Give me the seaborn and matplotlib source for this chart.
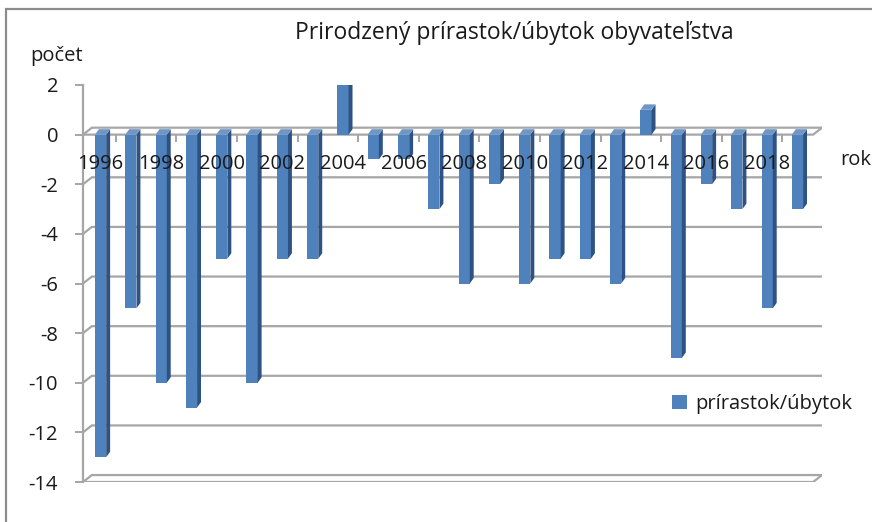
import matplotlib
matplotlib.use("Agg")
import matplotlib.pyplot as plt
from matplotlib.patches import Rectangle, Polygon
import seaborn as sns
import pandas as pd

years = [str(y) for y in range(1996, 2020)]
values = [-13, -7, -10, -11, -5, -10, -5, -5, 2, -1, -1, -3,
          -6, -2, -6, -5, -5, -6, 1, -9, -2, -3, -7, -3]
y_ticks = [2, 0, -2, -4, -6, -8, -10, -12, -14]
series_name = "prírastok/úbytok"
title = "Prirodzený prírastok/úbytok obyvateľstva"

FONT = ["Open Sans", "DejaVu Sans"]
sns.set_theme(style="white")
plt.rcParams["font.family"] = FONT

BLUE = "#4F81BD"
SIDE = "#2E5283"
TOP = "#6E97C8"
GRID = "#A6A6A6"
TXT = "#1a1a1a"
FS = 14.5

df = pd.DataFrame({"rok": years, "pocet": values})

fig = plt.figure(figsize=(8.72, 5.22), dpi=100)
ax = fig.add_axes([83 / 872, 1 - 482 / 522, 739 / 872, 397 / 522])

sns.barplot(data=df, x="rok", y="pocet", order=years, color=BLUE,
            width=0.37, saturation=1, label=series_name, ax=ax, zorder=3)

ax.set_xlim(-0.58, 23.81)
ax.set_ylim(-14, 2)

# 3D-like side and top faces derived from the drawn bars
d = 0.13
e = 0.22
for p in list(ax.patches):
    p.set_zorder(3)
    p.set_linewidth(0)
    x0 = p.get_x()
    w = p.get_width()
    y0 = p.get_y()
    h = p.get_height()
    lo, hi = min(y0, y0 + h), max(y0, y0 + h)
    side = Polygon([(x0 + w, lo), (x0 + w + d, lo + e), (x0 + w + d, hi + e), (x0 + w, hi)],
                   closed=True, facecolor=SIDE, edgecolor="none", zorder=3)
    top = Polygon([(x0, hi), (x0 + w, hi), (x0 + w + d, hi + e), (x0 + d, hi + e)],
                  closed=True, facecolor=TOP, edgecolor="none", zorder=3)
    ax.add_patch(side)
    ax.add_patch(top)

# back-wall gridlines with slanted connectors (3D look)
dy = 0.28   # vertical depth offset in data units
dx = 0.012  # horizontal depth offset in axes fraction
tr = ax.get_yaxis_transform()
for t in y_ticks:
    ax.plot([0.0, dx, 1.0], [t, t + dy, t + dy], color=GRID, lw=1.6, zorder=1,
            transform=tr, solid_capstyle="butt", solid_joinstyle="miter")
# front floor line and front zero line ends
for t in (-14, 0):
    ax.plot([0.0, 1.0 - dx, 1.0], [t, t, t + dy], color=GRID, lw=1.6,
            zorder=2, transform=tr, solid_capstyle="butt")

# axes styling
for s in ["top", "right", "bottom"]:
    ax.spines[s].set_visible(False)
ax.spines["bottom"].set_position(("data", 0))
ax.spines["left"].set_color(GRID)
ax.spines["left"].set_linewidth(1.6)
ax.xaxis.set_zorder(4)

ax.set_yticks(y_ticks)
ax.set_yticklabels([str(t) for t in y_ticks])
ax.tick_params(axis="y", direction="out", length=6, width=1.4, color=GRID,
               pad=12, labelsize=FS, labelcolor=TXT, left=True)

major = list(range(0, 24, 2))
ax.set_xticks(major)
ax.set_xticklabels([years[i] for i in major])
ax.set_xticks([i + 0.5 for i in major], minor=True)
ax.tick_params(axis="x", which="major", length=0, pad=14, labelsize=FS,
               labelcolor=TXT)
ax.tick_params(axis="x", which="minor", direction="out", length=5, width=1.4,
               color=GRID, bottom=True)
ax.set_xlabel("")
ax.set_ylabel("")

# legend
handles, labels = ax.get_legend_handles_labels()
ax.legend(handles[:1], labels[:1], loc="center left",
          bbox_to_anchor=(662 / 872, 1 - 404 / 522),
          bbox_transform=fig.transFigure, frameon=False,
          fontsize=FS, handlelength=0.75, handleheight=0.75,
          handletextpad=0.4, borderpad=0, labelcolor=TXT)

# texts
fig.text(514 / 872, 1 - 33 / 522, title, ha="center", va="center",
         fontsize=16.5, color=TXT)
fig.text(30 / 872, 1 - 56 / 522, "počet", ha="left", va="center",
         fontsize=FS, color=TXT)
fig.text(840 / 872, 1 - 160 / 522, "rok", ha="left", va="center",
         fontsize=FS, color=TXT)

# outer chart frame
fig.patches.append(Rectangle((6 / 872, -0.2), 2.0, 1.2 - 9 / 522,
                             transform=fig.transFigure, fill=False,
                             edgecolor="#8C8C8C", lw=1.6, zorder=0))

fig.savefig("out.png", dpi=100)
